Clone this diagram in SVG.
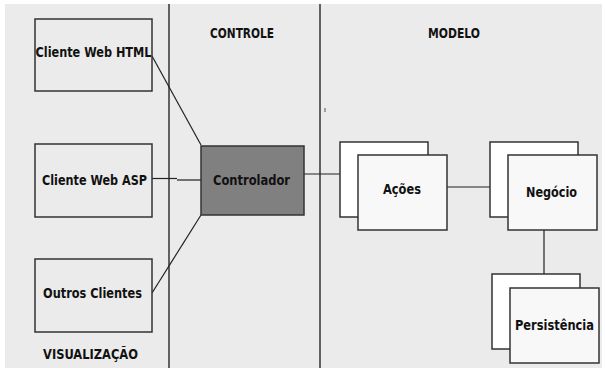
<svg xmlns="http://www.w3.org/2000/svg" width="605" height="371" viewBox="0 0 605 371">
  <style>
    .lbl { font-family: "DejaVu Sans", sans-serif; font-stretch: condensed; font-weight: bold; font-size: 14px; fill: #111; text-anchor: middle; }
    .box { fill: #ebebeb; stroke: #333; stroke-width: 1.5; }
    .back { fill: #ffffff; stroke: #333; stroke-width: 1.5; }
    .front { fill: #f8f8f8; stroke: #333; stroke-width: 1.5; }
    .lane { stroke: #333; stroke-width: 1.5; }
    .wire { stroke: #222; stroke-width: 1.2; fill: none; }
  </style>

  <rect x="0" y="0" width="605" height="371" fill="#ffffff"/>
  <rect x="5" y="4" width="597" height="364" fill="#ebebeb"/>

  <!-- layer separators -->
  <g id="lanes">
    <line class="lane" x1="169" y1="4" x2="169" y2="368"/>
    <line class="lane" x1="320" y1="4" x2="320" y2="368" stroke="#555" stroke-width="2"/>
    <rect x="324.5" y="108" width="1" height="4" fill="#555"/>
    <text class="lbl" x="242" y="38" textLength="64" lengthAdjust="spacingAndGlyphs">CONTROLE</text>
    <text class="lbl" x="454" y="38" textLength="52" lengthAdjust="spacingAndGlyphs">MODELO</text>
    <text class="lbl" x="90.5" y="359" textLength="95" lengthAdjust="spacingAndGlyphs">VISUALIZAÇÃO</text>
  </g>

  <g id="connectors">
    <line class="wire" x1="152" y1="56" x2="201" y2="145"/>
    <line class="wire" x1="152" y1="178.5" x2="177" y2="178.5"/>
    <line class="wire" x1="177" y1="180" x2="201" y2="180" stroke="#555" stroke-width="2"/>
    <line class="wire" x1="152" y1="293" x2="201" y2="215"/>
    <line class="wire" x1="304" y1="174" x2="340" y2="174"/>
    <line class="wire" x1="447" y1="187" x2="490" y2="187"/>
    <line class="wire" x1="544" y1="230" x2="544" y2="274"/>
  </g>

  <g id="cliente-html">
    <rect class="box" x="35" y="19" width="117" height="72"/>
    <text class="lbl" x="93.5" y="57" textLength="116" lengthAdjust="spacingAndGlyphs">Cliente Web HTML</text>
  </g>

  <g id="cliente-asp">
    <rect class="box" x="35" y="144" width="117" height="73"/>
    <text class="lbl" x="94.5" y="185" textLength="105" lengthAdjust="spacingAndGlyphs">Cliente Web ASP</text>
  </g>

  <g id="outros-clientes">
    <rect class="box" x="35" y="259" width="117" height="73"/>
    <text class="lbl" x="92.5" y="298" textLength="99" lengthAdjust="spacingAndGlyphs">Outros Clientes</text>
  </g>

  <g id="controlador">
    <rect x="201" y="146" width="103" height="69" fill="#808080" stroke="#333" stroke-width="1.5"/>
    <text class="lbl" x="251.5" y="185" textLength="77" lengthAdjust="spacingAndGlyphs">Controlador</text>
  </g>

  <g id="acoes">
    <rect class="back" x="340" y="142" width="88" height="75"/>
    <rect class="front" x="358" y="155" width="89" height="75"/>
    <text class="lbl" x="402" y="194" textLength="38" lengthAdjust="spacingAndGlyphs">Ações</text>
  </g>

  <g id="negocio">
    <rect class="back" x="490" y="142" width="88" height="75"/>
    <rect class="front" x="508" y="155" width="89" height="75"/>
    <text class="lbl" x="551.5" y="197" textLength="51" lengthAdjust="spacingAndGlyphs">Negócio</text>
  </g>

  <g id="persistencia">
    <rect class="back" x="492" y="274" width="88" height="75"/>
    <rect class="front" x="510" y="288" width="89" height="75"/>
    <text class="lbl" x="554.5" y="330" textLength="79" lengthAdjust="spacingAndGlyphs">Persistência</text>
  </g>
</svg>
